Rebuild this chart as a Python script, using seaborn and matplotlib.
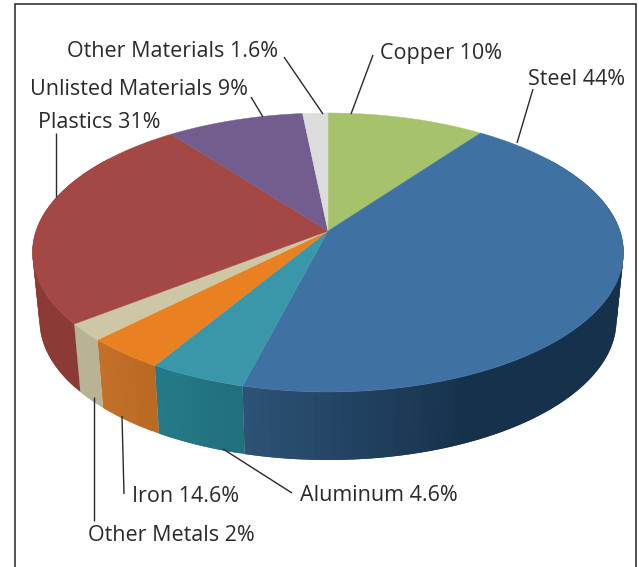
import numpy as np
import matplotlib
matplotlib.use("Agg")
import matplotlib.pyplot as plt
from matplotlib.colors import to_rgb
from matplotlib.path import Path
from matplotlib.transforms import Transform, Affine2D
import seaborn as sns

# ---- data (slice shares as drawn; printed labels differ in the original)
materials = ["Copper", "Steel", "Aluminum", "Iron", "Other Metals",
             "Plastics", "Unlisted Materials", "Other Materials"]
shares = [10.0, 44.0, 4.6, 3.8, 2.0, 25.3, 8.7, 1.6]
printed = ["Copper 10%", "Steel 44%", "Aluminum 4.6%", "Iron 14.6%", "Other Metals 2%",
           "Plastics 31%", "Unlisted Materials 9%", "Other Materials 1.6%"]

# ---- colours
top_colors = ["#a6c36c", "#3f72a2", "#3a97aa", "#e98122", "#cdc7a5",
              "#a34844", "#735d8e", "#dcdcdc"]
wall_start = ["#7f9a50", "#16314c", "#20707c", "#bb6a24", "#b8b394",
              "#8b3a36", "#574570", "#b0b0b0"]
wall_end = ["#7f9a50", "#2f5478", "#277b8a", "#c4722a", "#b8b394",
            "#8f3c38", "#574570", "#b0b0b0"]
text_color = "#2b2a2b"

# ---- layout
W, H = 639, 567
CX, CY = 328.0, 231.0      # pie apex in pixels
A, B, K = 292.0, 136.2, 0.154  # perspective of the top face
SHRINK, DEPTH, ELL_CY = 0.976, 68.0, 252.0
label_xy = [(380, 59), (528, 85), (300, 501), (132, 501.5), (88, 541),
            (38, 128), (30, 95), (67, 57)]
leaders = [((373, 55), (351, 114)), ((533, 89), (517, 143)), ((223, 449), (292, 493)),
           ((122, 416), (124, 494)), ((94, 397), (94, 521)), ((56, 133), (56, 197)),
           ((251, 97), (263, 117)), ((284, 57), (323, 114))]


def project(x, y):
    d = 1 + K * y
    return CX + A * x / d, CY - B * y / d


class Perspective(Transform):
    input_dims = output_dims = 2
    is_separable = False
    has_inverse = False

    def transform_non_affine(self, values):
        v = np.asarray(values, float)
        X, Y = project(v[:, 0], v[:, 1])
        return np.column_stack([X, Y])

    def transform_path_non_affine(self, path):
        big = Affine2D().scale(2000).transform_path(path)
        poly = big.to_polygons(closed_only=False)[0] / 2000.0
        return Path(self.transform_non_affine(poly))


sns.set_theme(style="white")
plt.rcParams["font.family"] = ["Open Sans", "DejaVu Sans"]

fig = plt.figure(figsize=(W / 100, H / 100), dpi=100)
ax = fig.add_axes([0, 0, 1, 1])

# top face: a real pie, bent through the perspective transform
wedges, _ = ax.pie(shares, startangle=90, counterclock=False, radius=1,
                   colors=sns.color_palette(top_colors))
persp = Perspective() + ax.transData
for w, c in zip(wedges, top_colors):
    w.set_transform(persp)
    w.set_edgecolor(c)
    w.set_linewidth(0.3)
    w.set_zorder(3)
    w.set_clip_on(False)

ax.set_aspect("auto")
ax.set_xlim(0, W)
ax.set_ylim(H, 0)
ax.axis("off")


def wall_points(a):
    X, Y = project(np.sin(a), np.cos(a))
    return X, Y, CX + (X - CX) * SHRINK, Y + DEPTH


# side walls, in shaded strips that overlap the next strip so no seams show
edges = np.concatenate([[0], np.cumsum(shares)]) / np.sum(shares) * 360
ramp = [1, 40, 1, 1, 1, 1, 1, 1]
for i in range(len(shares)):
    a0, a1 = edges[i], edges[i + 1]
    lo, hi = max(a0, 55), min(a1, 305)
    if hi <= lo:
        continue
    n = max(int((hi - lo) / 1.5), 1)
    grid = np.linspace(lo, hi, n + 1)
    c0, c1 = np.array(to_rgb(wall_start[i])), np.array(to_rgb(wall_end[i]))
    span = ramp[i] if ramp[i] > 1 else (a1 - a0)
    for s, e in zip(grid[:-1], grid[1:]):
        t = np.clip(1 - (a1 - 0.5 * (s + e)) / span, 0, 1)
        col = c0 + (c1 - c0) * t
        arc = np.radians(np.linspace(s, hi, 4)) if e == grid[-1] else np.radians(np.linspace(s, min(e + (e - s), hi), 4))
        X, Y, X2, Y2 = wall_points(arc)
        ax.fill(np.r_[X, X2[::-1]], np.r_[Y, Y2[::-1]], facecolor=col, edgecolor="none",
                lw=0, zorder=2 + 0.0001 * (n - int(round((s - lo) / (grid[1] - grid[0])))))

# leader lines and labels
for (p, q) in leaders:
    ax.plot([p[0], q[0]], [p[1], q[1]], color="#2a2a2a", lw=1.0, zorder=4,
            solid_capstyle="butt")
for txt, (x, y) in zip(printed, label_xy):
    ax.text(x, y, txt, ha="left", va="baseline", fontsize=15.5, color=text_color, zorder=5)

# page frame, open at the bottom
ax.plot([14.5, 14.5, 636, 636], [567, 3.5, 3.5, 567], color="#333333", lw=1.2, zorder=1,
        solid_joinstyle="miter")

fig.savefig("out.png", dpi=100, facecolor="white")
